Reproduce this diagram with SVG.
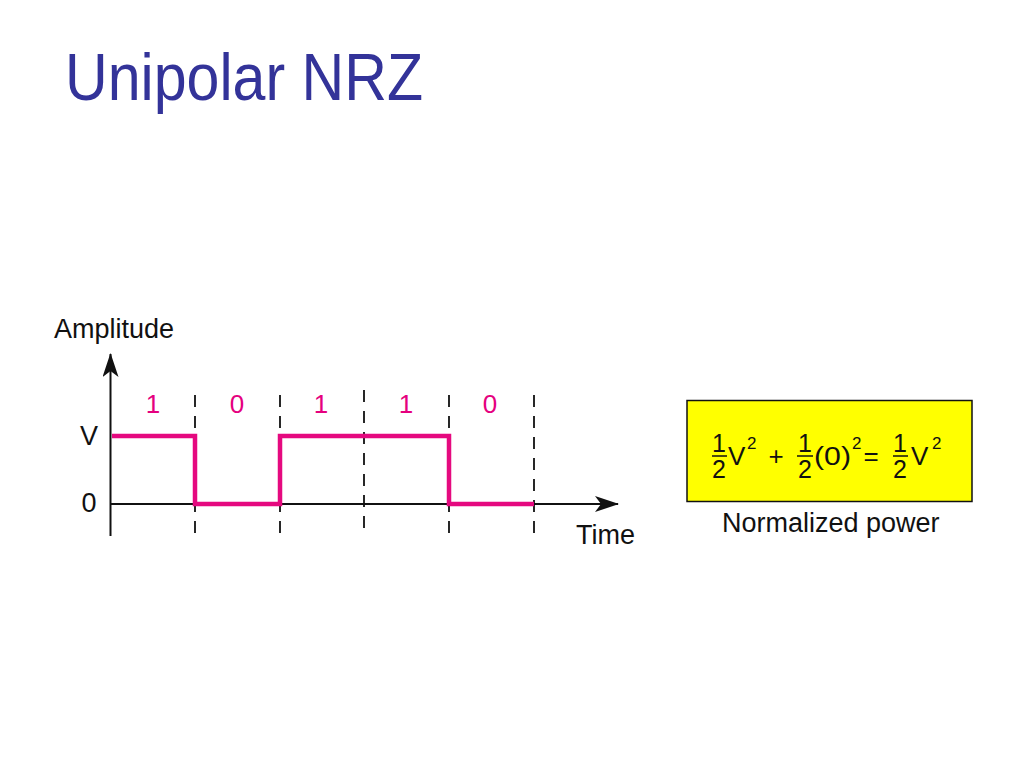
<svg xmlns="http://www.w3.org/2000/svg" width="1024" height="768" viewBox="0 0 1024 768">
<style>
.t{font-family:"Liberation Sans",Arial,sans-serif;fill:#111;font-size:27px}
.f{font-family:"Liberation Sans",Arial,sans-serif;fill:#111;font-size:26px}
.fr{font-family:"Liberation Sans",Arial,sans-serif;fill:#111;font-size:25px;text-anchor:middle}
.sup{font-family:"Liberation Sans",Arial,sans-serif;fill:#111;font-size:17px}
.bit{font-family:"Liberation Sans",Arial,sans-serif;fill:#E5007E;font-size:26px;text-anchor:middle}
.dash{stroke:#111;stroke-width:1.8;stroke-dasharray:12 9;fill:none}
.bar{stroke:#111;stroke-width:1.5}
</style>
<defs>
<marker id="arr" viewBox="0 0 24 16" refX="23" refY="8" markerWidth="24" markerHeight="16" markerUnits="userSpaceOnUse" orient="auto">
<path d="M0,0 L24,8 L0,16 L6,8 Z" fill="#111"/>
</marker>
</defs>
<rect width="1024" height="768" fill="#fff"/>
<text id="title" x="65" y="100" font-family="Liberation Sans,Arial,sans-serif" font-size="66" fill="#333399" textLength="358" lengthAdjust="spacingAndGlyphs">Unipolar NRZ</text>

<g id="axes">
<line x1="110.5" y1="536" x2="110.5" y2="354" stroke="#111" stroke-width="2" marker-end="url(#arr)"/>
<line x1="110" y1="504" x2="618" y2="504" stroke="#111" stroke-width="2" marker-end="url(#arr)"/>
</g>
<g id="labels">
<text class="t" x="54" y="338">Amplitude</text>
<text class="t" x="89" y="445" text-anchor="middle">V</text>
<text class="t" x="89" y="512" text-anchor="middle">0</text>
<text class="t" x="576" y="544">Time</text>
</g>
<g id="gridlines">
<line class="dash" x1="195" y1="395" x2="195" y2="535"/>
<line class="dash" x1="280" y1="395" x2="280" y2="535"/>
<line class="dash" x1="364" y1="390" x2="364" y2="530"/>
<line class="dash" x1="449" y1="395" x2="449" y2="535"/>
<line class="dash" x1="534" y1="395" x2="534" y2="535"/>
</g>
<g id="bits">
<text class="bit" x="153" y="413">1</text>
<text class="bit" x="237" y="413">0</text>
<text class="bit" x="321" y="413">1</text>
<text class="bit" x="406" y="413">1</text>
<text class="bit" x="490" y="413">0</text>
</g>
<g id="signal">
<path d="M112,436 H195 V504 H280 V436 H449 V504 H534" fill="none" stroke="#E5097F" stroke-width="4.5" stroke-linejoin="miter"/>
</g>

<g id="power-box">
<rect x="687" y="400.5" width="285" height="101" fill="#FFFF00" stroke="#111" stroke-width="1.5"/>
<text class="fr" x="719" y="452">1</text>
<line class="bar" x1="712" y1="456" x2="727" y2="456"/>
<text class="fr" x="719" y="478">2</text>
<text class="f" x="728" y="465">V</text>
<text class="sup" x="747" y="449">2</text>
<text class="f" x="776" y="465" text-anchor="middle">+</text>
<text class="fr" x="805" y="452">1</text>
<line class="bar" x1="797" y1="456" x2="813" y2="456"/>
<text class="fr" x="805" y="478">2</text>
<text class="f" x="814" y="465" textLength="37" lengthAdjust="spacingAndGlyphs">(0)</text>
<text class="sup" x="852" y="449">2</text>
<text class="f" x="871" y="465" text-anchor="middle">=</text>
<text class="fr" x="900" y="452">1</text>
<line class="bar" x1="893" y1="456" x2="908" y2="456"/>
<text class="fr" x="900" y="478">2</text>
<text class="f" x="911" y="465">V</text>
<text class="sup" x="932" y="449">2</text>
</g>
<text id="power-label" class="t" x="722" y="532">Normalized power</text>
</svg>
